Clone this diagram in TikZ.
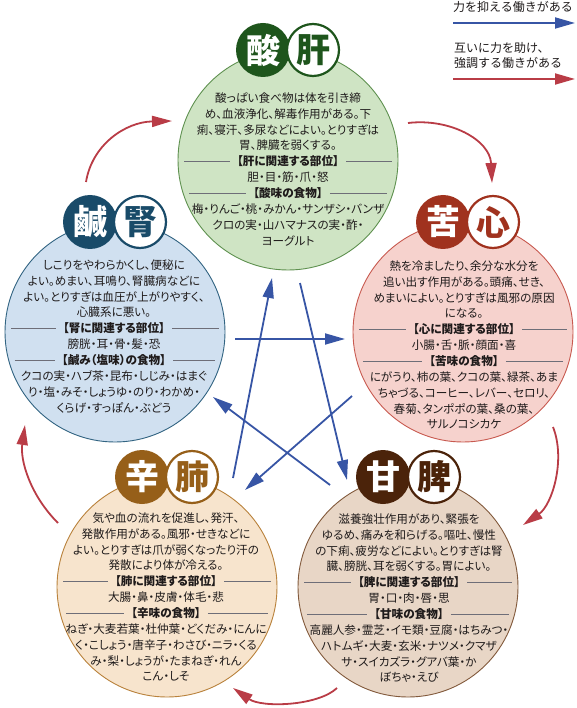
\documentclass[tikz,border=0pt]{standalone}
\usepackage{fontspec}
\setmainfont{Noto Sans CJK JP}[RawFeature=+palt]
\newfontfamily\titlefam{Noto Sans CJK JP}
\newfontfamily\legfam{Noto Sans CJK JP}
\usetikzlibrary{arrows.meta,calc}
\definecolor{txt}{RGB}{30,26,26}
\definecolor{sepc}{RGB}{110,110,120}
\definecolor{arrblue}{RGB}{55,85,165}
\definecolor{arrred}{RGB}{185,60,70}
\definecolor{gdark}{RGB}{30,85,28}
\definecolor{gfill}{RGB}{207,228,196}
\definecolor{gline}{RGB}{95,145,80}
\definecolor{bdark}{RGB}{25,75,105}
\definecolor{bfill}{RGB}{208,224,240}
\definecolor{bline}{RGB}{50,100,130}
\definecolor{pdark}{RGB}{160,50,30}
\definecolor{pfill}{RGB}{246,210,205}
\definecolor{pline}{RGB}{200,90,80}
\definecolor{odark}{RGB}{150,95,25}
\definecolor{ofill}{RGB}{247,228,205}
\definecolor{oline}{RGB}{185,130,60}
\definecolor{rdark}{RGB}{75,35,10}
\definecolor{rfill}{RGB}{232,214,198}
\definecolor{rline}{RGB}{130,90,60}
\newcommand\elemtext[4]{%
  \foreach \t [count=\i] in {#4}
    \node[body] (#1\i) at (#2,{#3+(\i-1)*15.85}) {\t};}
\newcommand\sepl[2]{%
  \draw[sepline] let \p1=(#2.west), \p2=(#2.east), \p3=(#1.center),
    \n1={sqrt(110*110-((\y1-\y3)/1pt)*((\y1-\y3)/1pt))} in
    ({\x3-\n1*1pt+6pt},\y1) -- ({\x1-7pt},\y1)
    ({\x2+7pt},\y1) -- ({\x3+\n1*1pt-6pt},\y1);}
\begin{document}
\begin{tikzpicture}[x=1pt,y=-1pt,
  bigc/.style={circle, minimum size=220pt, inner sep=0pt, line width=0.9pt},
  tdark/.style={circle, minimum size=54pt, inner sep=0pt, text=white,
    font=\titlefam\bfseries\fontsize{34}{34}\selectfont},
  tlight/.style={circle, minimum size=52pt, inner sep=0pt, fill=white, line width=2.2pt,
    font=\titlefam\bfseries\fontsize{34}{34}\selectfont},
  body/.style={anchor=base, inner sep=0pt, text=txt, font=\fontsize{11.6}{15.8}\selectfont},
  legend/.style={anchor=base west, inner sep=0pt, text=txt, font=\legfam\fontsize{12}{14}\selectfont},
  sepline/.style={draw=sepc, line width=0.6pt},
  ctrl/.style={draw=arrblue, line width=1.8pt, -{Triangle[length=20pt,width=11pt]}},
  gen/.style={draw=arrred, line width=1.8pt, -{Triangle[length=20pt,width=11pt]}}]
\useasboundingbox (0,0) rectangle (576,708);

% big circles
\node[bigc, fill=gfill, draw=gline] (G) at (288,160) {};
\node[bigc, fill=bfill, draw=bline] (B) at (115,332) {};
\node[bigc, fill=pfill, draw=pline] (P) at (463,332) {};
\node[bigc, fill=ofill, draw=oline] (O) at (167,587) {};
\node[bigc, fill=rfill, draw=rline] (R) at (408,587) {};

% titles
\node[tdark, fill=gdark] (gT1) at (263,50) {酸};
\node[tlight, draw=gdark, text=gdark] (gT2) at (313,50) {肝};
\node[tdark, fill=bdark] (bT1) at (90,222) {鹹};
\node[tlight, draw=bdark, text=bdark] (bT2) at (140,222) {腎};
\node[tdark, fill=pdark] (pT1) at (443,222) {苦};
\node[tlight, draw=pdark, text=pdark] (pT2) at (493,222) {心};
\node[tdark, fill=odark] (oT1) at (142,477) {辛};
\node[tlight, draw=odark, text=odark] (oT2) at (192,477) {肺};
\node[tdark, fill=rdark] (rT1) at (383,477) {甘};
\node[tlight, draw=rdark, text=rdark] (rT2) at (434,477) {脾};

% texts
\elemtext{g}{288}{102.4}{酸っぱい食べ物は体を引き締,
  め、血液浄化、解毒作用がある。下,
  痢、寝汗、多尿などによい。とりすぎは,
  胃、脾臓を弱くする。,
  {\bfseries 【肝に関連する部位】},
  胆・目・筋・爪・怒,
  {\bfseries 【酸味の食物】},
  梅・りんご・桃・みかん・サンザシ・バンザ,
  クロの実・山ハマナスの実・酢・,
  ヨーグルト}
\elemtext{b}{114}{269.4}{しこりをやわらかくし、便秘に,
  よい。めまい、耳鳴り、腎臓病などに,
  よい。とりすぎは血圧が上がりやすく、,
  心臓系に悪い。,
  {\bfseries 【腎に関連する部位】},
  膀胱・耳・骨・髪・恐,
  {\bfseries 【鹹み（塩味）の食物】},
  クコの実・ハブ茶・昆布・しじみ・はまぐ,
  り・塩・みそ・しょうゆ・のり・わかめ・,
  くらげ・すっぽん・ぶどう}
\elemtext{p}{464}{270.4}{熱を冷ましたり、余分な水分を,
  追い出す作用がある。頭痛、せき、,
  めまいによい。とりすぎは風邪の原因,
  になる。,
  {\bfseries 【心に関連する部位】},
  小腸・舌・脈・顔面・喜,
  {\bfseries 【苦味の食物】},
  にがうり、柿の葉、クコの葉、緑茶、あま,
  ちゃづる、コーヒー、レバー、セロリ、,
  春菊、タンポポの葉、桑の葉、,
  サルノコシカケ}
\elemtext{o}{166}{522.4}{気や血の流れを促進し、発汗、,
  発散作用がある。風邪・せきなどに,
  よい。とりすぎは爪が弱くなったり汗の,
  発散により体が冷える。,
  {\bfseries 【肺に関連する部位】},
  大腸・鼻・皮膚・体毛・悲,
  {\bfseries 【辛味の食物】},
  ねぎ・大麦若葉・杜仲葉・どくだみ・にんに,
  く・こしょう・唐辛子・わさび・ニラ・くる,
  み・梨・しょうが・たまねぎ・れん,
  こん・しそ}
\elemtext{r}{409}{523.4}{滋養強壮作用があり、緊張を,
  ゆるめ、痛みを和らげる。嘔吐、慢性,
  の下痢、疲労などによい。とりすぎは腎,
  臓、膀胱、耳を弱くする。胃によい。,
  {\bfseries 【脾に関連する部位】},
  胃・口・肉・唇・思,
  {\bfseries 【甘味の食物】},
  高麗人参・霊芝・イモ類・豆腐・はちみつ・,
  ハトムギ・大麦・玄米・ナツメ・クマザ,
  サ・スイカズラ・グアバ葉・か,
  ぼちゃ・えび}

% separator lines
\sepl{G}{g5}\sepl{G}{g7}
\sepl{B}{b5}\sepl{B}{b7}
\sepl{P}{p5}\sepl{P}{p7}
\sepl{O}{o5}\sepl{O}{o7}
\sepl{R}{r5}\sepl{R}{r7}

% controlling (blue) arrows
\coordinate (a1) at (233,478); \coordinate (a2) at (272,278);
\coordinate (b1) at (300,283); \coordinate (b2) at (347,480);
\coordinate (c1) at (235,339); \coordinate (c2) at (345,339);
\coordinate (d1) at (352,396); \coordinate (d2) at (245,490);
\coordinate (e1) at (330,485); \coordinate (e2) at (213,397);
\draw[ctrl] (a1) -- (a2);
\draw[ctrl] (b1) -- (b2);
\draw[ctrl] (c1) -- (c2);
\draw[ctrl] (d1) -- (d2);
\draw[ctrl] (e1) -- (e2);

% generating (red) arrows
\coordinate (r1s) at (86,182); \coordinate (r1e) at (172,121);
\coordinate (r2s) at (408,123); \coordinate (r2e) at (492,183);
\coordinate (r3s) at (553,427); \coordinate (r3e) at (523,525);
\coordinate (r4s) at (337,688); \coordinate (r4e) at (233,688);
\coordinate (r5s) at (58,523); \coordinate (r5e) at (25,425);
\draw[gen] (r1s) .. controls (92,145) and (125,122) .. (r1e);
\draw[gen] (r2s) .. controls (450,118) and (490,140) .. (r2e);
\draw[gen] (r3s) .. controls (566,460) and (552,505) .. (r3e);
\draw[gen] (r4s) .. controls (318,706) and (262,708) .. (r4e);
\draw[gen] (r5s) .. controls (30,495) and (20,460) .. (r5e);

% legend
\node[legend] (L1) at (453,11.5) {力を抑える働きがある};
\coordinate (LA1) at (453,23); \coordinate (LA2) at (575,23);
\draw[ctrl] (LA1) -- (LA2);
\node[legend] (L2) at (454,52.5) {互いに力を助け、};
\node[legend] (L3) at (454,67.5) {強調する働きがある};
\coordinate (LB1) at (453,79); \coordinate (LB2) at (575,79);
\draw[gen] (LB1) -- (LB2);
\end{tikzpicture}
\end{document}
